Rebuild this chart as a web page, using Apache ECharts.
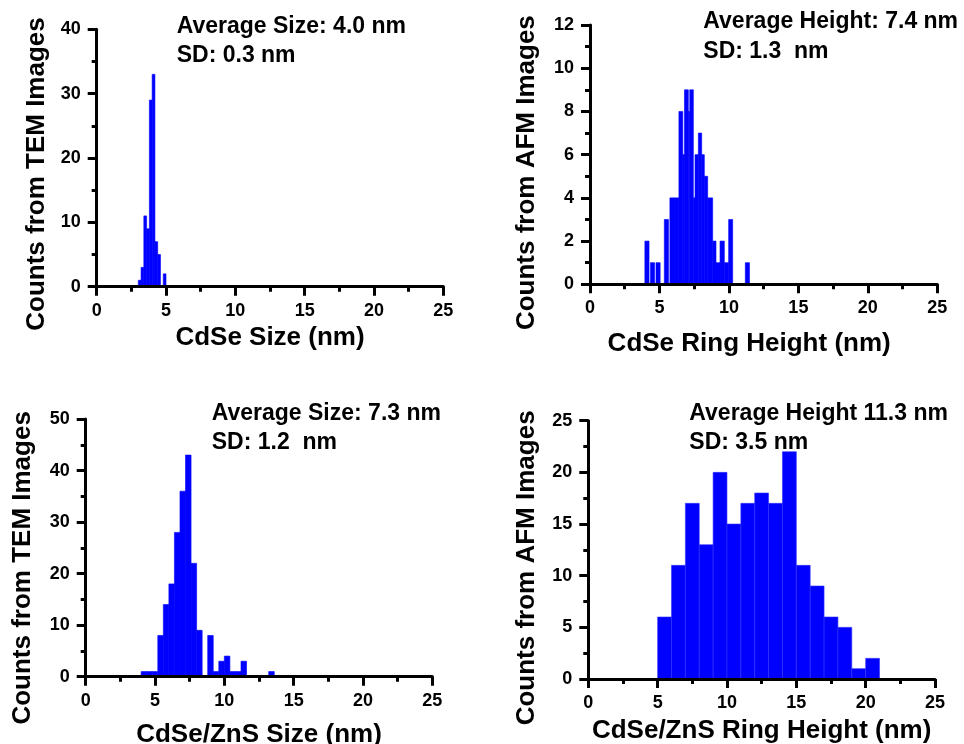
<!DOCTYPE html>
<html>
<head>
<meta charset="utf-8">
<script src="https://cdn.jsdelivr.net/npm/echarts@6/dist/echarts.min.js"></script>
<style>
html,body{margin:0;padding:0;background:#fff;}
#chart{width:964px;height:744px;}
</style>
</head>
<body>
<div id="chart"></div>
<script>
// ---------- data (bin start, bin end in nm; counts) ----------
// Panel 1: CdSe size (TEM)
const p1Lo    = [3.0, 3.2, 3.4, 3.6, 3.8, 4.0, 4.2, 4.4, 4.8];
const p1Hi    = [3.2, 3.4, 3.6, 3.8, 4.0, 4.2, 4.4, 4.6, 5.0];
const p1Count = [1, 3, 11, 9, 29, 33, 7, 5, 2];

// Panel 2: CdSe ring height (AFM)
const p2Lo    = [3.95, 4.35, 4.75, 5.35, 5.75, 6.05, 6.40, 6.68, 6.80, 7.08, 7.18, 7.44, 7.56, 7.80, 8.04, 8.23, 8.47, 8.83, 9.07, 9.36, 9.67, 9.98, 11.18];
const p2Hi    = [4.25, 4.65, 5.05, 5.65, 6.05, 6.40, 6.68, 6.80, 7.08, 7.18, 7.44, 7.56, 7.80, 8.04, 8.23, 8.47, 8.83, 9.07, 9.36, 9.67, 9.98, 10.27, 11.48];
const p2Count = [2, 1, 1, 3, 4, 4, 8, 6, 9, 8, 9, 4, 6, 7, 6, 5, 4, 2, 1, 2, 1, 3, 1];

// Panel 3: CdSe/ZnS size (TEM)
const p3Lo    = [4.0, 4.4, 4.8, 5.2, 5.6, 6.0, 6.4, 6.8, 7.2, 7.6, 8.0, 8.8, 9.2, 9.6, 10.0, 10.4, 10.8, 11.2, 13.2];
const p3Hi    = [4.4, 4.8, 5.2, 5.6, 6.0, 6.4, 6.8, 7.2, 7.6, 8.0, 8.4, 9.2, 9.6, 10.0, 10.4, 10.8, 11.2, 11.6, 13.6];
const p3Count = [1, 1, 1, 8, 14, 18, 28, 36, 43, 22, 9, 8, 1, 3, 4, 1, 1, 3, 1];

// Panel 4: CdSe/ZnS ring height (AFM)
const p4Lo    = [5, 6, 7, 8, 9, 10, 11, 12, 13, 14, 15, 16, 17, 18, 19, 20];
const p4Hi    = [6, 7, 8, 9, 10, 11, 12, 13, 14, 15, 16, 17, 18, 19, 20, 21];
const p4Count = [6, 11, 17, 13, 20, 15, 17, 18, 17, 22, 11, 9, 6, 5, 1, 2];

// axis ranges / ticks
const xMin = 0, xMax = 25, xStep = 5;
const yMaxes  = [40, 12, 50, 25];
const ySteps  = [10, 2, 10, 5];

// texts
const xTitles = ['CdSe Size (nm)', 'CdSe Ring Height (nm)', 'CdSe/ZnS Size (nm)', 'CdSe/ZnS Ring Height (nm)'];
const yTitles = ['Counts from TEM Images', 'Counts from AFM Images', 'Counts from TEM Images', 'Counts from AFM Images'];
const notes = [
  ['Average Size: 4.0 nm', 'SD: 0.3 nm'],
  ['Average Height: 7.4 nm', 'SD: 1.3  nm'],
  ['Average Size: 7.3 nm', 'SD: 1.2  nm'],
  ['Average Height 11.3 nm', 'SD: 3.5 nm']
];

// ---------- layout ----------
const FONT = '"Liberation Sans", Arial, Helvetica, sans-serif';
const grids = [
  {left: 96.7, top: 29.3, width: 346.6, height: 257.4},
  {left: 590, top: 25, width: 347.3, height: 259.3},
  {left: 85.7, top: 419, width: 346.6, height: 257.7},
  {left: 588.3, top: 420.7, width: 346.7, height: 258.3}
];
const xNameGap = [38.5, 46.5, 45, 38.5];
const xNamePad = [[0,0,0,0], [0,29,0,0], [0,0,0,0], [0,0,0,0]];
const yNameGap = [46.5, 50, 49.5, 48.5];
const yNamePadRight = [32, 36, 40, 36];
const notePos = [
  [176.7, 27, 56],
  [703.3, 22, 52],
  [211.7, 413.5, 442.5],
  [689.3, 413.5, 442.5]
];
const barStroke = ['#0000ff', '#0000ff', '#0000ff', '#3030ff'];

const series = [[p1Lo,p1Hi,p1Count],[p2Lo,p2Hi,p2Count],[p3Lo,p3Hi,p3Count],[p4Lo,p4Hi,p4Count]];

function axisCommon() {
  return {
    axisLine: {show: true, onZero: false, lineStyle: {color: '#000', width: 3}},
    axisTick: {show: true, inside: false, length: 9, lineStyle: {color: '#000', width: 3}},
    minorTick: {show: true, splitNumber: 2, length: 5, lineStyle: {color: '#000', width: 3}},
    splitLine: {show: false},
    minorSplitLine: {show: false},
    z: 5
  };
}

const option = {
  animation: false,
  backgroundColor: '#fff',
  grid: grids.map(g => Object.assign({containLabel: false, outerBoundsMode: 'none'}, g)),
  xAxis: grids.map((g, i) => Object.assign(axisCommon(), {
    type: 'value', gridIndex: i, min: xMin, max: xMax, interval: xStep,
    axisLabel: {color: '#000', fontFamily: FONT, fontWeight: 'bold', fontSize: 18, margin: 15},
    name: xTitles[i], nameLocation: 'middle', nameGap: xNameGap[i],
    nameTextStyle: {color: '#000', fontFamily: FONT, fontWeight: 'bold', fontSize: 26, padding: xNamePad[i], lineHeight: 26}
  })),
  yAxis: grids.map((g, i) => Object.assign(axisCommon(), {
    type: 'value', gridIndex: i, min: 0, max: yMaxes[i], interval: ySteps[i],
    axisLabel: {color: '#000', fontFamily: FONT, fontWeight: 'bold', fontSize: 18, margin: 16},
    name: yTitles[i], nameLocation: 'middle', nameGap: yNameGap[i],
    nameTextStyle: {color: '#000', fontFamily: FONT, fontWeight: 'bold', fontSize: 26, padding: [0, yNamePadRight[i], 0, 0], lineHeight: 26}
  })),
  series: series.map((s, i) => ({
    type: 'custom',
    xAxisIndex: i, yAxisIndex: i,
    z: 2,
    data: s[0].map((lo, k) => [lo, s[1][k], s[2][k]]),
    encode: {x: [0, 1], y: 2},
    renderItem: function (params, api) {
      const a = api.coord([api.value(0), api.value(2)]);
      const b = api.coord([api.value(1), 0]);
      return {
        type: 'rect',
        shape: {x: a[0], y: a[1], width: b[0] - a[0], height: b[1] - a[1]},
        style: {fill: '#0000ff', stroke: barStroke[i], lineWidth: 0.6}
      };
    }
  })),
  graphic: notes.flatMap((n, i) => n.map((t, j) => ({
    type: 'text',
    x: notePos[i][0],
    y: notePos[i][1 + j],
    z: 10,
    style: {
      text: t, fill: '#000',
      font: 'bold 23px ' + FONT,
      align: 'left', verticalAlign: 'middle'
    }
  })))
};

const chart = echarts.init(document.getElementById('chart'), null, {renderer: 'canvas'});
chart.setOption(option);
</script>
</body>
</html>
